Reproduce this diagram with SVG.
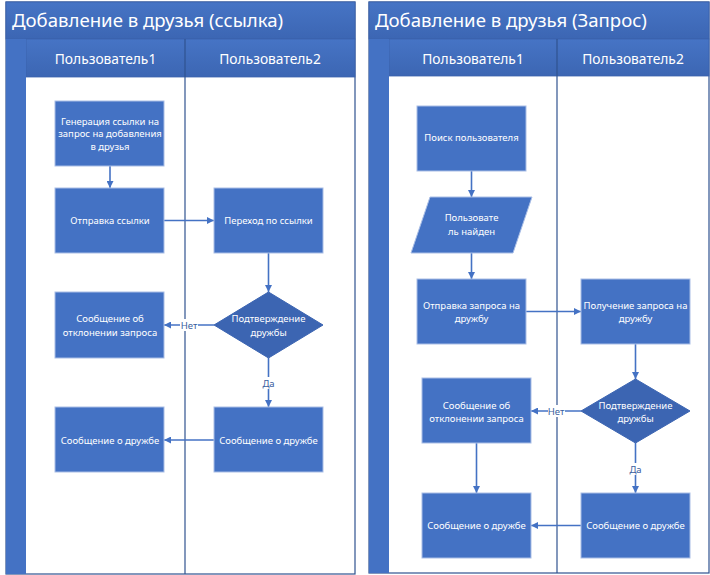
<svg xmlns="http://www.w3.org/2000/svg" width="710" height="575" viewBox="0 0 710 575">
<defs>
<marker id="arr" viewBox="0 0 10 10" refX="10" refY="5" markerWidth="7" markerHeight="7" markerUnits="userSpaceOnUse" orient="auto"><path d="M0,0 L10,5 L0,10 z" fill="#4472C4"/></marker>
<linearGradient id="band" x1="0" y1="0" x2="0" y2="1"><stop offset="0" stop-color="#4674C5"/><stop offset="1" stop-color="#3C66B3"/></linearGradient>
<style>
.pool{fill:#fff;stroke:#2F528F;stroke-width:1.2}
.band{fill:url(#band);stroke:#3A62AC;stroke-width:0.8}
.strip{fill:#4472C4}
.lane{stroke:#2F528F;stroke-width:1.2}
.title{font-family:"Noto Sans","Open Sans",sans-serif;font-size:18.6px;fill:#fff}
.hdr{font-family:"Noto Sans","Open Sans",sans-serif;font-size:13.8px;fill:#fff;text-anchor:middle}
.box{fill:#4472C4;stroke:#A9BEE6;stroke-width:1}
.dia{fill:#3C65B2;stroke:#3C65B2;stroke-width:1}
.t{font-family:"Noto Sans","Open Sans",sans-serif;font-size:9.5px;fill:#fff;text-anchor:middle}
.lbl{font-family:"Noto Sans","Open Sans",sans-serif;font-size:9.5px;fill:#3A5E9E;text-anchor:middle}
.c{fill:none;stroke:#4472C4;stroke-width:1.6;marker-end:url(#arr)}
</style>
</defs>

<!-- Left pool -->
<g id="pool1">
<rect class="pool" x="6" y="2" width="349" height="572"/>
<rect class="band" x="6" y="2" width="349" height="37"/>
<rect class="band" x="26" y="39" width="329" height="38"/>
<rect class="strip" x="6" y="39" width="20" height="535"/>
<line class="lane" x1="185" y1="39" x2="185" y2="574"/>
<text class="title" x="12" y="27">Добавление в друзья (ссылка)</text>
<text class="hdr" x="105.5" y="63.5">Пользователь1</text>
<text class="hdr" x="270" y="63.5">Пользователь2</text>
</g>

<!-- Right pool -->
<g id="pool2">
<rect class="pool" x="369" y="2" width="340" height="571"/>
<rect class="band" x="369" y="2" width="340" height="37"/>
<rect class="band" x="389" y="39" width="320" height="37"/>
<rect class="strip" x="369" y="39" width="20" height="534"/>
<line class="lane" x1="557" y1="39" x2="557" y2="573"/>
<text class="title" x="375" y="27">Добавление в друзья (Запрос)</text>
<text class="hdr" x="473" y="63.5">Пользователь1</text>
<text class="hdr" x="633" y="63.5">Пользователь2</text>
</g>

<!-- Connectors -->
<g id="connectors">
<path class="c" d="M110,166 L110,188"/>
<path class="c" d="M164,220.5 L214,220.5"/>
<path class="c" d="M268.5,253 L268.5,292"/>
<path class="c" d="M214,325 L164,325"/>
<path class="c" d="M268.5,358 L268.5,407"/>
<path class="c" d="M214,440 L164,440"/>
<path class="c" d="M471.5,171 L471.5,197"/>
<path class="c" d="M471.5,253 L471.5,279"/>
<path class="c" d="M526,311.5 L581,311.5"/>
<path class="c" d="M635.5,344 L635.5,379"/>
<path class="c" d="M581,411 L531,411"/>
<path class="c" d="M476.5,443 L476.5,493"/>
<path class="c" d="M635.5,443 L635.5,493"/>
<path class="c" d="M581,525.5 L531,525.5"/>
<rect x="180" y="319" width="18" height="12" fill="#fff"/>
<text class="lbl" x="189" y="328.5">Нет</text>
<rect x="261" y="377" width="15" height="12" fill="#fff"/>
<text class="lbl" x="268.5" y="386.5">Да</text>
<rect x="548" y="405" width="17" height="12" fill="#fff"/>
<text class="lbl" x="556" y="414.5">Нет</text>
<rect x="628" y="463" width="15" height="12" fill="#fff"/>
<text class="lbl" x="635.5" y="472.5">Да</text>
</g>

<!-- Left pool nodes -->
<g id="gen_link">
<rect class="box" x="55" y="101" width="109" height="65"/>
<text class="t" x="110" y="124.5">Генерация ссылки на</text>
<text class="t" x="110" y="137">запрос на добавления</text>
<text class="t" x="110" y="149.5">в друзья</text>
</g>
<g id="send_link">
<rect class="box" x="55" y="188" width="109" height="65"/>
<text class="t" x="110" y="224">Отправка ссылки</text>
</g>
<g id="follow_link">
<rect class="box" x="214" y="188" width="109" height="65"/>
<text class="t" x="268.5" y="224">Переход по ссылки</text>
</g>
<g id="confirm1">
<path class="dia" d="M268.5,292 L323,325 L268.5,358 L214,325 z"/>
<text class="t" x="268.5" y="322">Подтверждение</text>
<text class="t" x="268.5" y="335.5">дружбы</text>
</g>
<g id="reject1">
<rect class="box" x="55" y="292" width="109" height="66"/>
<text class="t" x="110" y="322">Сообщение об</text>
<text class="t" x="110" y="335.5">отклонении запроса</text>
</g>
<g id="friend1_u2">
<rect class="box" x="214" y="407" width="109" height="65"/>
<text class="t" x="268.5" y="443.5">Сообщение о дружбе</text>
</g>
<g id="friend1_u1">
<rect class="box" x="55" y="407" width="109" height="65"/>
<text class="t" x="110" y="443.5">Сообщение о дружбе</text>
</g>

<!-- Right pool nodes -->
<g id="search_user">
<rect class="box" x="417" y="106" width="109" height="65"/>
<text class="t" x="471.5" y="141">Поиск пользователя</text>
</g>
<g id="user_found">
<path class="box" d="M430,197 L532,197 L513,253 L411,253 z"/>
<text class="t" x="471.5" y="221">Пользовате</text>
<text class="t" x="471.5" y="234.5">ль найден</text>
</g>
<g id="send_request">
<rect class="box" x="417" y="279" width="109" height="65"/>
<text class="t" x="471.5" y="308.5">Отправка запроса на</text>
<text class="t" x="471.5" y="322">дружбу</text>
</g>
<g id="receive_request">
<rect class="box" x="581" y="279" width="109" height="65"/>
<text class="t" x="635.5" y="308.5">Получение запроса на</text>
<text class="t" x="635.5" y="322">дружбу</text>
</g>
<g id="confirm2">
<path class="dia" d="M635.5,379 L690,411 L635.5,443 L581,411 z"/>
<text class="t" x="635.5" y="408.5">Подтверждение</text>
<text class="t" x="635.5" y="422">дружбы</text>
</g>
<g id="reject2">
<rect class="box" x="422" y="378" width="109" height="65"/>
<text class="t" x="476.5" y="408.5">Сообщение об</text>
<text class="t" x="476.5" y="422">отклонении запроса</text>
</g>
<g id="friend2_u1">
<rect class="box" x="422" y="493" width="109" height="65"/>
<text class="t" x="476.5" y="529">Сообщение о дружбе</text>
</g>
<g id="friend2_u2">
<rect class="box" x="581" y="493" width="109" height="65"/>
<text class="t" x="635.5" y="529">Сообщение о дружбе</text>
</g>
</svg>
